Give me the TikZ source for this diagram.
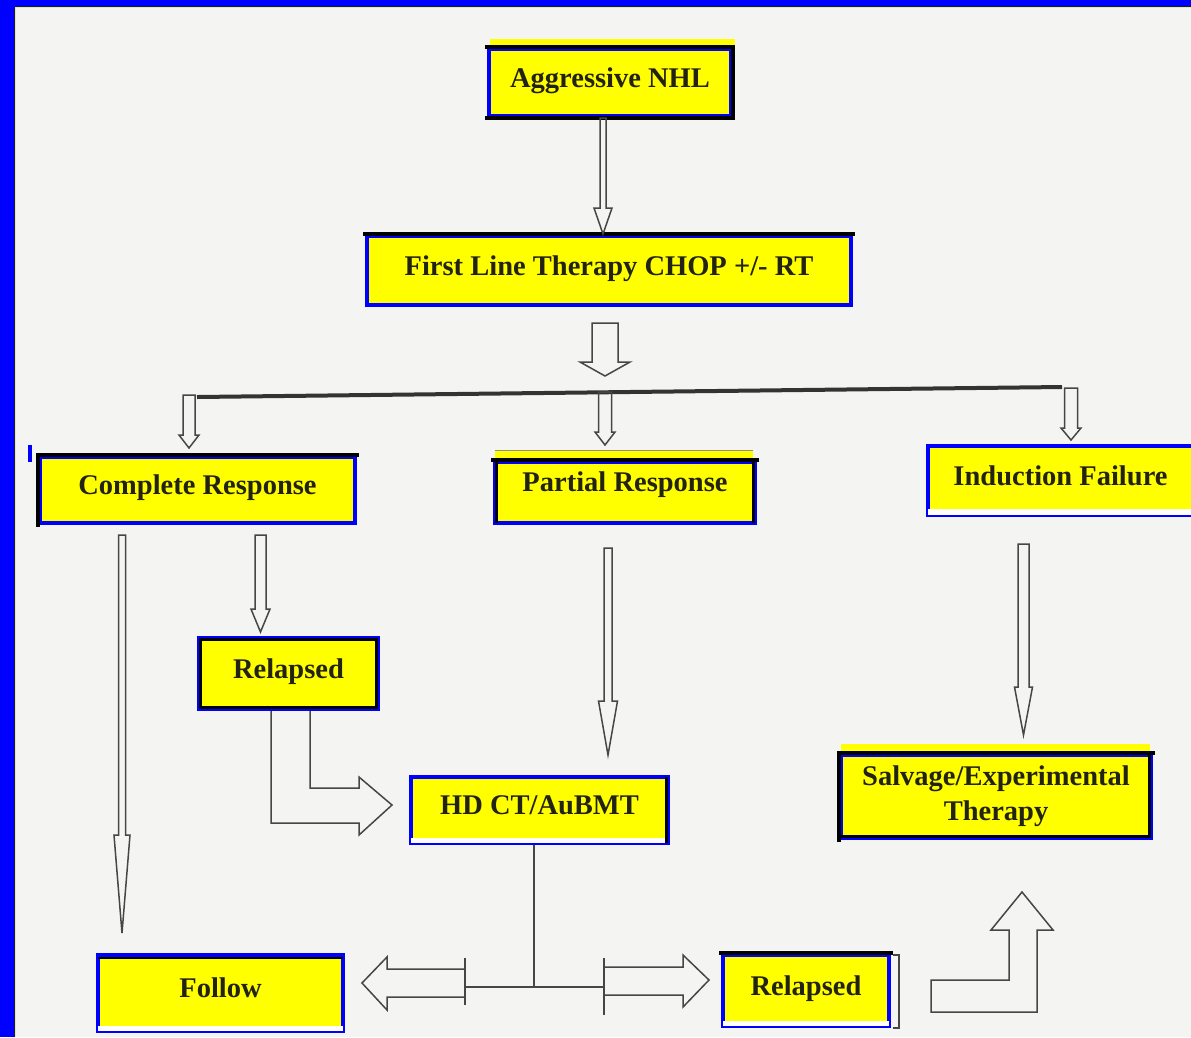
\documentclass[tikz,border=0pt]{standalone}
\usepackage{fontspec}
\setmainfont{Liberation Serif}
\usetikzlibrary{calc}
\definecolor{bg}{RGB}{244,244,242}
\definecolor{pblue}{RGB}{0,0,255}
\definecolor{pyel}{RGB}{255,255,0}
\definecolor{ink}{RGB}{35,35,20}
\definecolor{arr}{RGB}{70,70,70}
% vertical hollow arrow: #1 top point, #2 tip point (y only), #3 shaft half width, #4 head half width, #5 head length
\newcommand\vhollow[5]{\draw[hollow] let \p1=#1, \p2=#2 in
  (\x1-#3,\y1) -- (\x1-#3,\y2+#5) -- (\x1-#4,\y2+#5) -- (\x1,\y2) --
  (\x1+#4,\y2+#5) -- (\x1+#3,\y2+#5) -- (\x1+#3,\y1) -- cycle;}
\begin{document}
\begin{tikzpicture}[x=1pt,y=-1pt,
  ybox/.style={draw=pblue, fill=pyel, line width=4pt, inner sep=0pt,
    font=\fontsize{28.5}{35}\selectfont\bfseries, text=ink},
  yline/.style={ybox, text height=19pt, text depth=10pt},
  blk/.style={draw=black, line width=4pt, line cap=rect},
  blkin/.style={draw=black, line width=3pt},
  hollow/.style={draw=arr, line width=1.5pt, line join=miter},
  conn/.style={draw=arr, line width=2pt},
  barline/.style={draw=black!80, line width=4pt}]
\useasboundingbox (0,0) rectangle (1191,1037);
\fill[bg] (0,0) rectangle (1191,1037);
\fill[pblue] (0,0) rectangle (15,1037);
\fill[pblue] (0,0) rectangle (1191,7);
\draw[pyel, line width=1pt] (15.5,1037) -- (15.5,7.5) -- (1191,7.5);
\fill[pblue] (28,445) rectangle (32,462);

% ---------- boxes ----------
\fill[pyel] (490,39) rectangle (735,47);
\node[yline, minimum width=242pt, minimum height=67pt] (agg) at (610,82.5) {Aggressive NHL};
\draw[blk] (agg.north west) -- (agg.north east) -- (agg.south east) -- (agg.south west);

\node[yline, minimum width=484pt, minimum height=69pt] (first) at (609,270.5) {First Line Therapy CHOP +/- RT};
\draw[blk] (first.north west) -- (first.north east);

\node[yline, minimum width=315pt, minimum height=66pt] (cr) at (197.5,490) {Complete Response};
\draw[blk] (cr.south west) -- (cr.north west) -- (cr.north east);

\fill[pyel] (495,450) rectangle (753,460);
\draw[black!45, line width=1pt] (495,450) -- (753,450);
\node[yline, minimum width=260pt, minimum height=61pt, text depth=22pt] (pr) at (625,492.5) {Partial Response};
\draw[blk] (pr.north west) -- (pr.north east);
\draw[blkin] ([shift={(3.5pt,0pt)}]pr.north west) -- ([shift={(3.5pt,2pt)}]pr.south west);
\draw[blkin] ([shift={(-3.5pt,0pt)}]pr.north east) -- ([shift={(-3.5pt,2pt)}]pr.south east);

\node[yline, minimum width=265pt, minimum height=69pt] (ifail) at (1060.5,480.5) {Induction Failure};
\fill[white] ([shift={(2pt,2pt)}]ifail.south west) rectangle ([shift={(-2pt,8pt)}]ifail.south east);

\node[yline, minimum width=179pt, minimum height=71pt] (rel1) at (288.5,673.5) {Relapsed};
\draw[blkin] ([shift={(3.5pt,-3.5pt)}]rel1.north west) rectangle ([shift={(-3.5pt,3.5pt)}]rel1.south east);

\node[yline, minimum width=257pt, minimum height=66pt] (hd) at (539.5,810) {HD CT/AuBMT};
\draw[blkin] ([shift={(-3.5pt,-2pt)}]hd.north east) -- ([shift={(-3.5pt,2pt)}]hd.south east);
\fill[white] ([shift={(2pt,2pt)}]hd.south west) rectangle ([shift={(-5pt,7pt)}]hd.south east);

\fill[pyel] (841,744) rectangle (1150,753);
\node[ybox, minimum width=310pt, minimum height=83pt, align=center] (salv) at (996,796.5) {Salvage/Experimental\\Therapy};
\draw[blk] (salv.south west) -- (salv.north west) -- (salv.north east);
\draw[blkin] ([shift={(-3.5pt,-2pt)}]salv.north east) -- ([shift={(-3.5pt,3.5pt)}]salv.south east) -- ([shift={(2pt,3.5pt)}]salv.south west);

\node[yline, minimum width=245pt, minimum height=76pt] (follow) at (220.5,993) {Follow};
\draw[black, line width=2.5pt] ([shift={(2pt,-5pt)}]follow.north west) -- ([shift={(-2pt,-5pt)}]follow.north east);
\fill[white] ([shift={(2pt,2pt)}]follow.south west) rectangle ([shift={(-2pt,7pt)}]follow.south east);

\node[yline, minimum width=166pt, minimum height=71pt] (rel2) at (806,990.5) {Relapsed};
\draw[blk] (rel2.north west) -- (rel2.north east);
\fill[white] ([shift={(2pt,2pt)}]rel2.south west) rectangle ([shift={(-2pt,7pt)}]rel2.south east);
\draw[arr, line width=1.2pt] ([shift={(2pt,-2pt)}]rel2.north east) -- ([shift={(8pt,-2pt)}]rel2.north east) -- ([xshift=8pt]rel2.south east) -- ([xshift=2pt]rel2.south east);

% ---------- connectors ----------
\vhollow{([xshift=-7pt]agg.south)}{(first.north)}{3pt}{9pt}{26pt}
\coordinate (splitTip) at (605,376);
\vhollow{([shift={(-4pt,-16pt)}]first.south)}{(splitTip)}{13pt}{25pt}{14pt}
\coordinate (barL) at (197,397);
\coordinate (barR) at (1062,387);
\draw[barline] (barL) -- (barR);
\vhollow{(189,395)}{([yshift=7pt]cr.north)}{6pt}{10pt}{13pt}
\vhollow{(605,392)}{([yshift=15pt]pr.north)}{6.5pt}{10pt}{13pt}
\vhollow{(1071,388)}{([yshift=4pt]ifail.north)}{6.5pt}{10pt}{12pt}

\vhollow{([shift={(-75.5pt,-10pt)}]cr.south)}{([yshift=20pt]follow.north)}{3.5pt}{8pt}{98pt}
\vhollow{([shift={(63pt,-10pt)}]cr.south)}{([yshift=4pt]rel1.north)}{5.5pt}{9.5pt}{23pt}
\vhollow{([shift={(-17pt,-23pt)}]pr.south)}{([yshift=20pt]hd.north)}{4pt}{9.5pt}{54pt}
\vhollow{([shift={(-37pt,-27pt)}]ifail.south)}{([yshift=18pt]salv.north)}{5.5pt}{9pt}{48pt}

% Relapsed -> HD CT (bent block arrow)
\draw[hollow] ([xshift=-17.5pt]rel1.south) -- (271,823) -- (359,823) -- (359,835) -- (392,805) -- (359,777) -- (359,788) -- (310,788) -- ([xshift=21.5pt]rel1.south);

% HD CT split to Follow / Relapsed
\coordinate (jn) at (534,987);
\draw[conn] ([xshift=-5.5pt]hd.south) -- (jn);
\draw[conn] (465,987) -- (604,987);
\draw[hollow] (465,969) -- (387,969) -- (387,957) -- (362,983) -- (387,1010) -- (387,997) -- (465,997);
\draw[arr, line width=1.5pt] (465,958) -- (465,1005);
\draw[hollow] (604,967) -- (683,967) -- (683,955) -- (709,980) -- (683,1007) -- (683,995) -- (604,995);
\draw[arr, line width=1.5pt] (604,958) -- (604,1015);

% Relapsed -> Salvage (bent block arrow)
\draw[hollow] (931,980) -- (1009,980) -- (1009,930) -- (991,930) -- (1022,892) -- (1053,930) -- (1037,930) -- (1037,1012) -- (931,1012) -- cycle;
\end{tikzpicture}
\end{document}
